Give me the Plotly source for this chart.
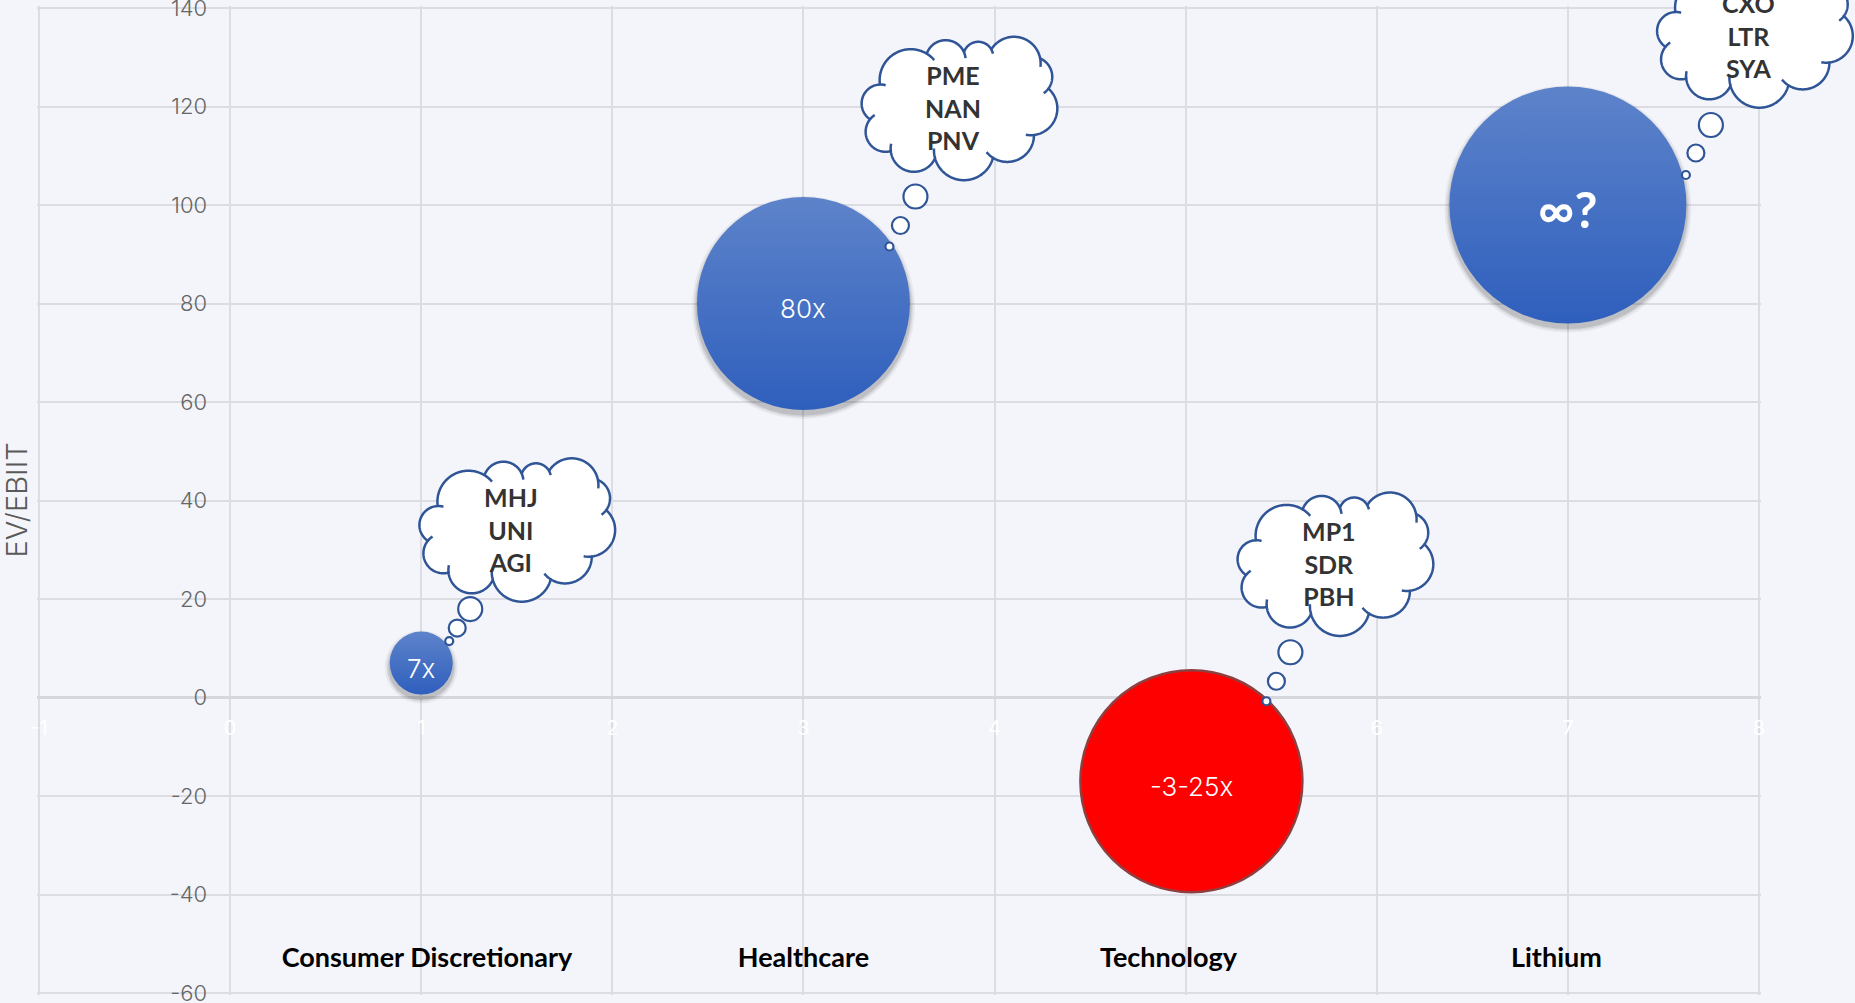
import numpy as np
import plotly.graph_objects as go

# ---------------- data ----------------
categories = ["Consumer Discretionary", "Healthcare", "Technology", "Lithium"]
category_x = [1.03, 3.0, 4.91, 6.94]
category_y = [-53.4, -53.4, -53.4, -53.4]

bubble_x = [1, 3, 5.03, 7]
bubble_y = [7, 80, -17, 100]
bubble_size = [63, 213, 222, 237]
bubble_labels = ["7x", "80x", "-3-25x", "∞?"]
tickers = [["MHJ", "UNI", "AGI"],
           ["PME", "NAN", "PNV"],
           ["MP1", "SDR", "PBH"],
           ["CXO", "LTR", "SYA"]]

x_tick_vals = [-1, 0, 1, 2, 3, 4, 5, 6, 7, 8]
x_tick_text = ["-1", "0", "1", "2", "3", "4", "5", "6", "7", "8"]
y_tick_vals = [-60, -40, -20, 0, 20, 40, 60, 80, 100, 120, 140]
y_tick_text = ["-60", "-40", "-20", "0", "20", "40", "60", "80", "100", "120", "140"]
y_title = "EV/EBIIT"

# ---------------- layout constants ----------------
W, H = 1855, 1003
PAD = 2  # extra px beyond the outermost ticks so edge gridlines are kept
ML, MR, MT, MB = 39 - PAD, 96 - PAD, 8 - PAD, 10 - PAD
PX_X = (1759 - 39) / 9.0      # px per x unit
PX_Y = (993 - 8) / 200.0      # px per y unit
XR = [-1 - PAD / PX_X, 8 + PAD / PX_X]
YR = [-60 - PAD / PX_Y, 140 + PAD / PX_Y]
BG = "#f4f5fa"
GRID = "#dcdde2"
CLOUD_LINE = "#2f5597"
plot_w = W - ML - MR
plot_h = H - MT - MB

# cloud placement (pixel offsets from bubble centre, y up)
cloud_offset = [(96, 133), (156, 195), (144, 217), (187, 169)]
trail_offset = [[(28, 22, 4), (36, 35, 8.5), (49, 54, 12)],
                [(86, 57, 4), (97, 78, 8.5), (112, 107, 12)],
                [(75, 80, 4), (85, 100, 8.5), (99, 129, 12)],
                [(118, 30, 4), (128, 52, 8.5), (143, 80, 12)]]
label_style = [dict(size=26, weight=300, family="Inter", yshift=-5),
               dict(size=26, weight=300, family="Inter", yshift=-5),
               dict(size=26, weight=300, family="Inter", yshift=-5),
               dict(size=50, weight=700, family="Lato", yshift=-4)]

# cloud lobes (screen px, y down, relative to cloud centre)
lobes = [(-78.8, -5, 19), (-48.8, -28.3, 31), (-13.8, -48.3, 20), (18.8, -51.7, 15),
         (54.5, -45, 26.7), (72.8, -31.7, 20), (71.2, 0, 26.7), (47.8, 26.7, 26.7),
         (4.5, 41.7, 30), (-45.5, 40, 23.3), (-73.8, 23.3, 20)]


def cloud_geometry():
    phis = np.linspace(0, 2 * np.pi, 1080, endpoint=False)
    pts, owner = [], []
    for p in phis:
        d = np.array([np.cos(p), np.sin(p)])
        best, bi = 0, -1
        for i, (cx, cy, r) in enumerate(lobes):
            c = np.array([cx, cy])
            b = d @ c
            disc = b * b - c @ c + r * r
            if disc >= 0:
                t = b + np.sqrt(disc)
                if t > best:
                    best, bi = t, i
        pts.append(best * d)
        owner.append(bi)
    pts = np.array(pts)
    hooks = []
    n = len(pts)
    for k in range(n):
        if owner[k] != owner[(k + 1) % n]:
            i = owner[k]
            cx, cy, r = lobes[i]
            a1 = np.arctan2(pts[k][1] - cy, pts[k][0] - cx)
            a0 = np.arctan2(pts[k - 3][1] - cy, pts[k - 3][0] - cx)
            s = np.sign(np.angle(np.exp(1j * (a1 - a0))))
            aa = a1 + s * np.linspace(0, np.radians(19), 8)
            hooks.append(np.c_[cx + r * np.cos(aa), cy + r * np.sin(aa)])
    return pts, hooks


cloud_pts, cloud_hooks = cloud_geometry()


def to_path(arr, ox, oy, close):
    s = "M " + " L ".join(f"{x + ox:.2f},{-y + oy:.2f}" for x, y in arr)
    return s + (" Z" if close else "")


def paper_x(v):
    return (v - XR[0]) / (XR[1] - XR[0])


def paper_y(v):
    return (v - YR[0]) / (YR[1] - YR[0])


fig = go.Figure()

blue_idx = [i for i, v in enumerate(bubble_y) if v >= 0]
red_idx = [i for i, v in enumerate(bubble_y) if v < 0]

# soft shadows for blue bubbles
shadow_dy = 4 / PX_Y
for grow, op in [(10, 0.05), (6, 0.08), (3, 0.10)]:
    fig.add_trace(go.Scatter(
        x=[bubble_x[i] for i in blue_idx],
        y=[bubble_y[i] - shadow_dy for i in blue_idx],
        mode="markers", hoverinfo="skip", showlegend=False, cliponaxis=False,
        marker=dict(size=[bubble_size[i] + grow for i in blue_idx], sizemode="diameter",
                    color=f"rgba(0,0,0,{op})", opacity=1, line=dict(width=0))))

# blue bubbles (lighter at top, darker at bottom)
fig.add_trace(go.Scatter(
    x=[bubble_x[i] for i in blue_idx], y=[bubble_y[i] for i in blue_idx],
    mode="markers", showlegend=False, cliponaxis=False,
    hovertext=[bubble_labels[i] for i in blue_idx], hoverinfo="text",
    marker=dict(size=[bubble_size[i] for i in blue_idx], sizemode="diameter",
                color="#5d83ca", opacity=1,
                gradient=dict(type="vertical", color="#2f5fbd"),
                line=dict(width=0))))

# red bubble
fig.add_trace(go.Scatter(
    x=[bubble_x[i] for i in red_idx], y=[bubble_y[i] for i in red_idx],
    mode="markers", showlegend=False, cliponaxis=False,
    hovertext=[bubble_labels[i] for i in red_idx], hoverinfo="text",
    marker=dict(size=[bubble_size[i] for i in red_idx], sizemode="diameter",
                color="#ff0000", opacity=1, line=dict(width=2.5, color="#8e4040"))))

# category labels
fig.add_trace(go.Scatter(
    x=category_x, y=category_y, mode="text", text=categories,
    textposition="middle center", showlegend=False, hoverinfo="skip",
    textfont=dict(family="Lato", size=27, color="black", weight=700)))

shapes = []
annotations = []
for i in range(len(bubble_x)):
    ls = label_style[i]
    annotations.append(dict(
        x=bubble_x[i], y=bubble_y[i], xref="x", yref="y", text=bubble_labels[i],
        showarrow=False, xanchor="center", yanchor="middle", yshift=ls["yshift"],
        font=dict(family=ls["family"], size=ls["size"], color="white", weight=ls["weight"])))

    ax, ay = paper_x(bubble_x[i]), paper_y(bubble_y[i])
    base = dict(xref="paper", yref="paper", xsizemode="pixel", ysizemode="pixel",
                xanchor=ax, yanchor=ay, layer="above")
    for (tx, ty, r) in trail_offset[i]:
        shapes.append(dict(type="circle", x0=tx - r, x1=tx + r, y0=ty - r, y1=ty + r,
                           fillcolor="white", line=dict(color=CLOUD_LINE, width=2.2), **base))
    ox, oy = cloud_offset[i]
    shapes.append(dict(type="path", path=to_path(cloud_pts, ox, oy, True),
                       fillcolor="white", line=dict(color=CLOUD_LINE, width=2.5), **base))
    for hk in cloud_hooks:
        shapes.append(dict(type="path", path=to_path(hk, ox, oy, False),
                           line=dict(color=CLOUD_LINE, width=2.5), **base))
    annotations.append(dict(
        x=bubble_x[i], y=bubble_y[i], xref="x", yref="y",
        xshift=ox - 6, yshift=oy + 1, showarrow=False,
        text="<br>".join(tickers[i]), align="center",
        xanchor="center", yanchor="middle",
        font=dict(family="Lato", size=25, color="#333333", weight=700)))

annotations.append(dict(
    x=(16 - ML) / plot_w, y=paper_y(40), xref="paper", yref="paper",
    text=y_title, textangle=-90,
    showarrow=False, xanchor="center", yanchor="middle",
    font=dict(family="Inter", size=29, color="#595959", weight=300)))

fig.update_layout(
    width=W, height=H,
    margin=dict(l=ML, r=MR, t=MT, b=MB, pad=0, autoexpand=False),
    paper_bgcolor=BG, plot_bgcolor=BG,
    showlegend=False,
    shapes=shapes, annotations=annotations,
    xaxis=dict(range=XR, tickvals=x_tick_vals, ticktext=x_tick_text,
               showgrid=True, gridcolor=GRID, gridwidth=1.5, zeroline=False,
               showline=False, ticks="", anchor="free", position=paper_y(0),
               layer="below traces", automargin=False, ticklabeloverflow="allow",
               tickfont=dict(family="Inter", size=20, color="white"),
               ticklabelstandoff=16, fixedrange=True),
    yaxis=dict(range=YR, tickvals=y_tick_vals, ticktext=y_tick_text,
               showgrid=True, gridcolor=GRID, gridwidth=1.5,
               zeroline=True, zerolinecolor="#d6d7dc", zerolinewidth=2.5,
               showline=False, ticks="", anchor="free", position=paper_x(0),
               layer="below traces", automargin=False, ticklabeloverflow="allow",
               tickfont=dict(family="Inter", size=22, color="#666666", weight=300),
               ticklabelstandoff=23, fixedrange=True),
)

fig.write_html("out.html", config={"displayModeBar": False},
               post_script="document.body.style.margin='0px';document.body.style.background='%s';" % BG)
